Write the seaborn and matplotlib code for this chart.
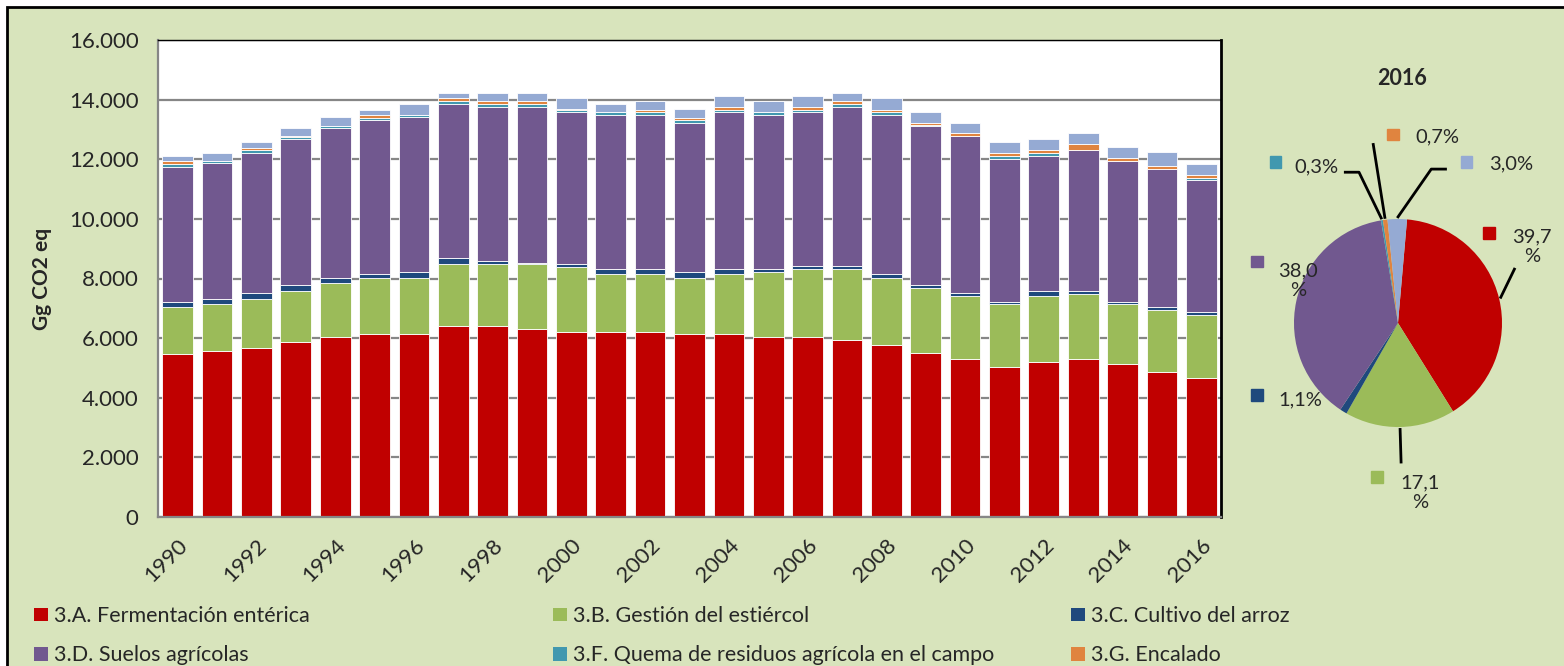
#!/usr/bin/env python3
"""Emisiones GEI del sector agricultura (Gg CO2 eq), 1990-2016, y reparto 2016."""

import matplotlib.pyplot as plt
import matplotlib.ticker as ticker
import numpy as np
import pandas as pd
import seaborn as sns
from matplotlib.patches import Patch, Rectangle

# --- data -----------------------------------------------------------------
years = list(range(1990, 2017))

enterica = [5480, 5575, 5675, 5855, 6035, 6125, 6125, 6405, 6405, 6315, 6215, 6215, 6215, 6125,
            6125, 6035, 6035, 5945, 5765, 5485, 5305, 5035, 5215, 5305, 5125, 4855, 4665]
estiercol = [1550, 1555, 1635, 1725, 1815, 1905, 1905, 2095, 2095, 2185, 2185, 1925, 1925, 1905,
             2015, 2185, 2275, 2365, 2265, 2185, 2095, 2095, 2185, 2185, 2005, 2085, 2095]
arroz = [190, 170, 190, 190, 180, 110, 190, 180, 90, 20, 100, 170, 170, 190,
         170, 90, 100, 100, 110, 100, 100, 90, 180, 90, 90, 90, 100]
suelos = [4525, 4560, 4705, 4895, 5010, 5165, 5185, 5175, 5165, 5235, 5075, 5175, 5175, 5000,
          5265, 5175, 5165, 5345, 5345, 5355, 5265, 4805, 4540, 4715, 4715, 4640, 4435]
quema = [90, 80, 90, 90, 80, 90, 80, 90, 100, 100, 90, 90, 90, 90,
         90, 90, 90, 100, 90, 10, 10, 90, 100, 10, 10, 10, 90]
encalado = [110, 10, 90, 10, 10, 90, 10, 100, 90, 90, 10, 10, 90, 90,
            100, 10, 100, 90, 90, 90, 90, 100, 90, 190, 90, 90, 100]
urea = [180, 270, 190, 280, 280, 180, 370, 180, 280, 280, 380, 280, 280, 270,
        370, 370, 370, 280, 380, 360, 360, 360, 360, 370, 370, 460, 360]

series_names = [
    "3.A. Fermentación entérica",
    "3.B. Gestión del estiércol",
    "3.C. Cultivo del arroz",
    "3.D. Suelos agrícolas",
    "3.F. Quema de residuos agrícola en el campo",
    "3.G. Encalado",
    "3.H. Urea",
]

pie_year = "2016"
pie_shares = [39.7, 17.1, 1.1, 38.0, 0.3, 0.7, 3.0]
pie_labels = ["39,7\n%", "17,1\n%", "1,1%", "38,0\n%", "0,3%", "0,7%", "3,0%"]

COLORS = ["#C00000", "#9BBB59", "#1F497D", "#71588F", "#4198AF", "#E0843F", "#95AAD3"]
BG = "#D8E4BC"
GRID = "#868686"

# label placement for the pie (data units, radius = 1): square, text, leader elbow
PIE_LAYOUT = [
    ((0.875, 0.865), (1.29, 0.73), [(1.125, 0.53)]),
    ((-0.20, -1.48), (0.21, -1.63), [(0.03, -1.35)]),
    ((-1.356, -0.69), (-0.94, -0.74), None),
    ((-1.356, 0.59), (-0.96, 0.41), None),
    ((-1.18, 1.55), (-0.78, 1.50), [(-0.52, 1.45), (-0.375, 1.45)]),
    ((-0.05, 1.81), (0.375, 1.79), [(-0.24, 1.73)]),
    ((0.66, 1.55), (1.09, 1.53), [(0.47, 1.48), (0.32, 1.48)]),
]

W, H = 1564, 666


def main():
    sns.set_theme(style="white")
    plt.rcParams["font.family"] = ["Lato", "DejaVu Sans"]

    fig = plt.figure(figsize=(W / 100, H / 100), dpi=100, facecolor="white")
    fig.patches.append(Rectangle((7 / W, -0.1), 1.2, (H - 7) / H + 0.1,
                                 transform=fig.transFigure, facecolor=BG,
                                 edgecolor="black", linewidth=2, zorder=-10))

    # --- stacked bars ---
    ax = fig.add_axes([158 / W, 1 - 517 / H, (1221 - 158) / W, (517 - 40) / H])
    ax.set_facecolor("white")
    df = pd.DataFrame({"year": [str(y) for y in years]})
    layers = [enterica, estiercol, arroz, suelos, quema, encalado, urea]
    bottom = np.zeros(len(years))
    for vals, color in zip(layers, COLORS):
        vals = np.asarray(vals, dtype=float)
        sns.barplot(x=df["year"], y=vals, bottom=bottom, color=color, saturation=1,
                    width=0.78, errorbar=None, edgecolor="white", linewidth=0.6, ax=ax)
        bottom = bottom + vals

    ax.set_xlim(-0.5, len(years) - 0.5)
    ax.set_ylim(0, 16000)
    ax.set_xlabel("")
    ax.set_ylabel("Gg CO2 eq", fontsize=15, fontweight="bold")
    ax.yaxis.set_label_coords(-0.1, 0.5)
    ax.yaxis.set_major_locator(ticker.MultipleLocator(2000))
    ax.yaxis.set_major_formatter(
        ticker.FuncFormatter(lambda v, _: f"{v:,.0f}".replace(",", ".")))
    ax.set_xticks(range(0, len(years), 2))
    ax.set_xticklabels([str(y) for y in years[::2]], rotation=45, ha="right",
                       va="top", rotation_mode="anchor", fontsize=16)
    ax.set_xticks(np.arange(-0.5, len(years), 1), minor=True)
    ax.tick_params(axis="x", which="major", length=0, pad=13)
    ax.tick_params(axis="x", which="minor", length=6, width=1.5, color=GRID)
    ax.tick_params(axis="y", length=6, width=1.5, color=GRID, labelsize=16, pad=8)
    ax.yaxis.grid(True, color=GRID, linewidth=1.6)
    ax.set_axisbelow(True)
    for side in ("left", "bottom"):
        ax.spines[side].set_color(GRID)
        ax.spines[side].set_linewidth(1.6)
    ax.spines["top"].set_color("black")
    ax.spines["top"].set_linewidth(1)
    ax.spines["right"].set_color("black")
    ax.spines["right"].set_linewidth(2)

    # --- pie 2016 ---
    pax = fig.add_axes([1240 / W, 1 - 520 / H, 324 / W, 460 / H])
    wedges, _ = pax.pie(pie_shares, colors=COLORS, startangle=85, counterclock=False,
                        radius=1, wedgeprops={"linewidth": 0})
    pax.set_xlim(-1.519, 1.596)
    pax.set_ylim(-1.894, 2.529)
    pax.set_aspect("auto")
    pax.axis("off")
    pax.text(0.04, 2.35, pie_year, ha="center", va="center", fontsize=15.5, fontweight="bold")

    for w, lab, color, (sq, txt, elbow) in zip(wedges, pie_labels, COLORS, PIE_LAYOUT):
        s = 0.11
        pax.add_patch(Rectangle((sq[0] - s / 2, sq[1] - s / 2), s, s, color=color,
                                clip_on=False))
        pax.text(txt[0], txt[1], lab, ha="center", va="center", fontsize=14.5,
                 linespacing=1.2)
        if elbow:
            mid = np.deg2rad((w.theta1 + w.theta2) / 2)
            pts = elbow + [(np.cos(mid) * 1.01, np.sin(mid) * 1.01)]
            pax.plot([p[0] for p in pts], [p[1] for p in pts], color="black",
                     linewidth=2, solid_capstyle="butt", clip_on=False)

    # --- legend: three columns placed like the original ---
    handles = [Patch(facecolor=c, edgecolor="none") for c in COLORS]
    columns = [(0, 3, 34), (1, 4, 553), (2, 5, 1071)]
    for top, bot, x in columns:
        fig.legend([handles[top], handles[bot]], [series_names[top], series_names[bot]],
                   loc="upper left", bbox_to_anchor=(x / W, 1 - 606 / H), frameon=False,
                   fontsize=15.5, handlelength=0.65, handleheight=0.6, handletextpad=0.3,
                   labelspacing=0.9, borderpad=0, borderaxespad=0)

    fig.savefig("out.png", dpi=100, facecolor=fig.get_facecolor())
    plt.close(fig)


if __name__ == "__main__":
    main()
